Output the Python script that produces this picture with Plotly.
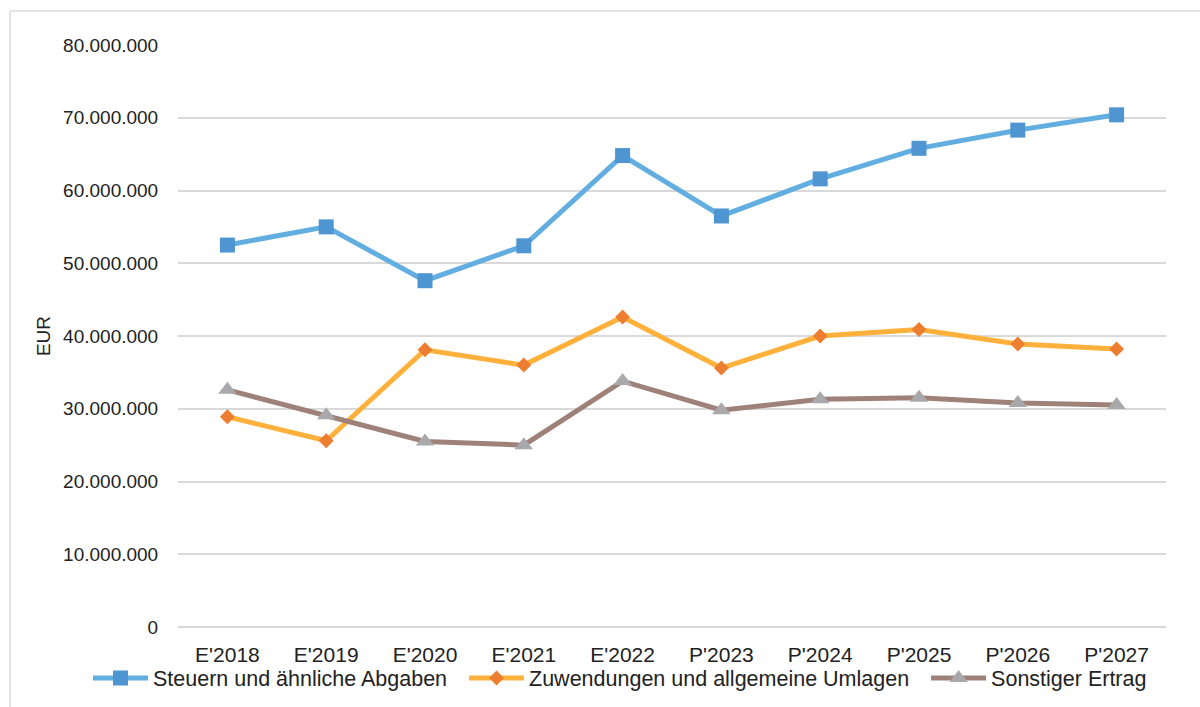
import plotly.graph_objects as go

categories = ["E'2018", "E'2019", "E'2020", "E'2021", "E'2022",
              "P'2023", "P'2024", "P'2025", "P'2026", "P'2027"]
steuern = [52.5e6, 55.0e6, 47.6e6, 52.4e6, 64.8e6, 56.5e6, 61.6e6, 65.8e6, 68.3e6, 70.4e6]
zuwendungen = [28.9e6, 25.6e6, 38.1e6, 36.0e6, 42.6e6, 35.6e6, 40.0e6, 40.9e6, 38.9e6, 38.2e6]
sonstiger = [32.6e6, 29.1e6, 25.5e6, 25.0e6, 33.8e6, 29.8e6, 31.3e6, 31.5e6, 30.8e6, 30.5e6]
series_names = ["Steuern und ähnliche Abgaben",
                "Zuwendungen und allgemeine Umlagen",
                "Sonstiger Ertrag"]
y_ticks = [0, 10e6, 20e6, 30e6, 40e6, 50e6, 60e6, 70e6, 80e6]

W, H = 1200, 707
ML, MR, MT, MB = 178, 34, 45, 80
PW, PH = W - ML - MR, H - MT - MB
FONT = "Liberation Sans, Arial, sans-serif"
PAD = "\u00a0\u00a0"  # spacing between legend entries

fig = go.Figure()
fig.add_trace(go.Scatter(
    x=categories, y=steuern, name=series_names[0] + PAD, mode="lines+markers",
    line=dict(color="#62AEE0", width=5),
    marker=dict(symbol="square", size=15, color="#4E95D2"),
))
fig.add_trace(go.Scatter(
    x=categories, y=zuwendungen, name=series_names[1] + PAD, mode="lines+markers",
    line=dict(color="#FFB13B", width=5),
    marker=dict(symbol="diamond", size=11.5, color="#ED7D31"),
))
fig.add_trace(go.Scatter(
    x=categories, y=sonstiger, name=series_names[2], mode="lines+markers",
    line=dict(color="#9E8279", width=5),
    marker=dict(symbol="triangle-up", size=16, color="#A9A9AB"),
))

fig.update_layout(
    width=W, height=H,
    margin=dict(l=ML, r=MR, t=MT, b=MB, autoexpand=False),
    paper_bgcolor="white", plot_bgcolor="white",
    separators=",.",
    font=dict(family=FONT, size=19, color="#222222"),
    showlegend=True,
    legend=dict(orientation="h", xref="paper", yref="paper",
                x=(88 - ML) / PW, xanchor="left",
                y=-(678 - (H - MB)) / PH, yanchor="middle",
                font=dict(size=21.5), itemwidth=55, tracegroupgap=0,
                bgcolor="rgba(0,0,0,0)"),
    xaxis=dict(type="category", range=[-0.5, 9.5], showgrid=False,
               showline=False, zeroline=False, automargin=False,
               ticks="outside", ticklen=9, tickcolor="rgba(0,0,0,0)",
               tickfont=dict(size=21)),
    yaxis=dict(range=[0, 80e6], tickvals=y_ticks, tickformat=",d",
               showgrid=True, gridcolor="#D9D9D9", gridwidth=1.5,
               zeroline=True, zerolinecolor="#D9D9D9", zerolinewidth=1.5,
               showline=False, automargin=False,
               ticks="outside", ticklen=15, tickcolor="rgba(0,0,0,0)",
               tickfont=dict(size=19),
               title=dict(text="EUR", font=dict(size=19), standoff=7)),
    shapes=[
        dict(type="line", xref="paper", yref="paper",
             x0=(10 - ML) / PW, x1=(W - ML) / PW,
             y0=(H - MB - 11) / PH, y1=(H - MB - 11) / PH,
             line=dict(color="#D9D9D9", width=1.5)),
        dict(type="line", xref="paper", yref="paper",
             x0=(10 - ML) / PW, x1=(10 - ML) / PW,
             y0=(H - MB - 11) / PH, y1=-MB / PH,
             line=dict(color="#D9D9D9", width=1.5)),
    ],
)

fig.write_html("out.html", config={"displayModeBar": False},
               post_script="document.body.style.margin='0';document.body.style.overflow='hidden';")
